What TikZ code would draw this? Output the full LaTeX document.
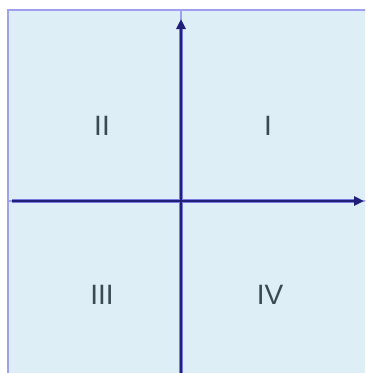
\documentclass[tikz,border=0pt]{standalone}
\usepackage{fontspec}
\setmainfont{Liberation Sans}
\usetikzlibrary{arrows.meta}
\definecolor{quadfill}{HTML}{DEEEF7}
\definecolor{quadline}{HTML}{A0A0F0}
\definecolor{axiscol}{HTML}{20207A}
\definecolor{axishalo}{HTML}{7A7AE0}
\definecolor{labcol}{HTML}{3A4A52}
\begin{document}
\begin{tikzpicture}[x=1pt,y=-1pt,
  quad/.style={fill=quadfill,draw=quadline,line width=2pt},
  axis/.style={draw=axiscol,line width=2.6pt,-{Triangle[length=10pt,width=9pt]}},
  halo/.style={draw=axishalo,line width=4.6pt},
  lab/.style={text=labcol,font=\fontsize{28}{28}\selectfont,inner sep=0pt}]
\useasboundingbox (0,0) rectangle (365,373);
\begin{scope}
\clip (0,0) rectangle (365,373);
\path[quad] (8,10) rectangle (181,201);
\path[quad] (181,10) rectangle (370,201);
\path[quad] (8,201) rectangle (181,380);
\path[quad] (181,201) rectangle (370,380);
\end{scope}
\coordinate (vb) at (181,373);
\coordinate (vt) at (181,19);
\coordinate (vh) at (181,28);
\coordinate (hl) at (12,201);
\coordinate (hr) at (364,201);
\coordinate (hh) at (355,201);
\draw[halo] (vb) -- (vh);
\draw[halo] (hl) -- (hh);
\draw[axis] (vb) -- (vt);
\draw[axis] (hl) -- (hr);
\node[lab] (q2) at (102,126) {II};
\node[lab] (q1) at (268,126) {I};
\node[lab] (q3) at (102,295) {III};
\node[lab] (q4) at (270,295) {IV};
\end{tikzpicture}
\end{document}
